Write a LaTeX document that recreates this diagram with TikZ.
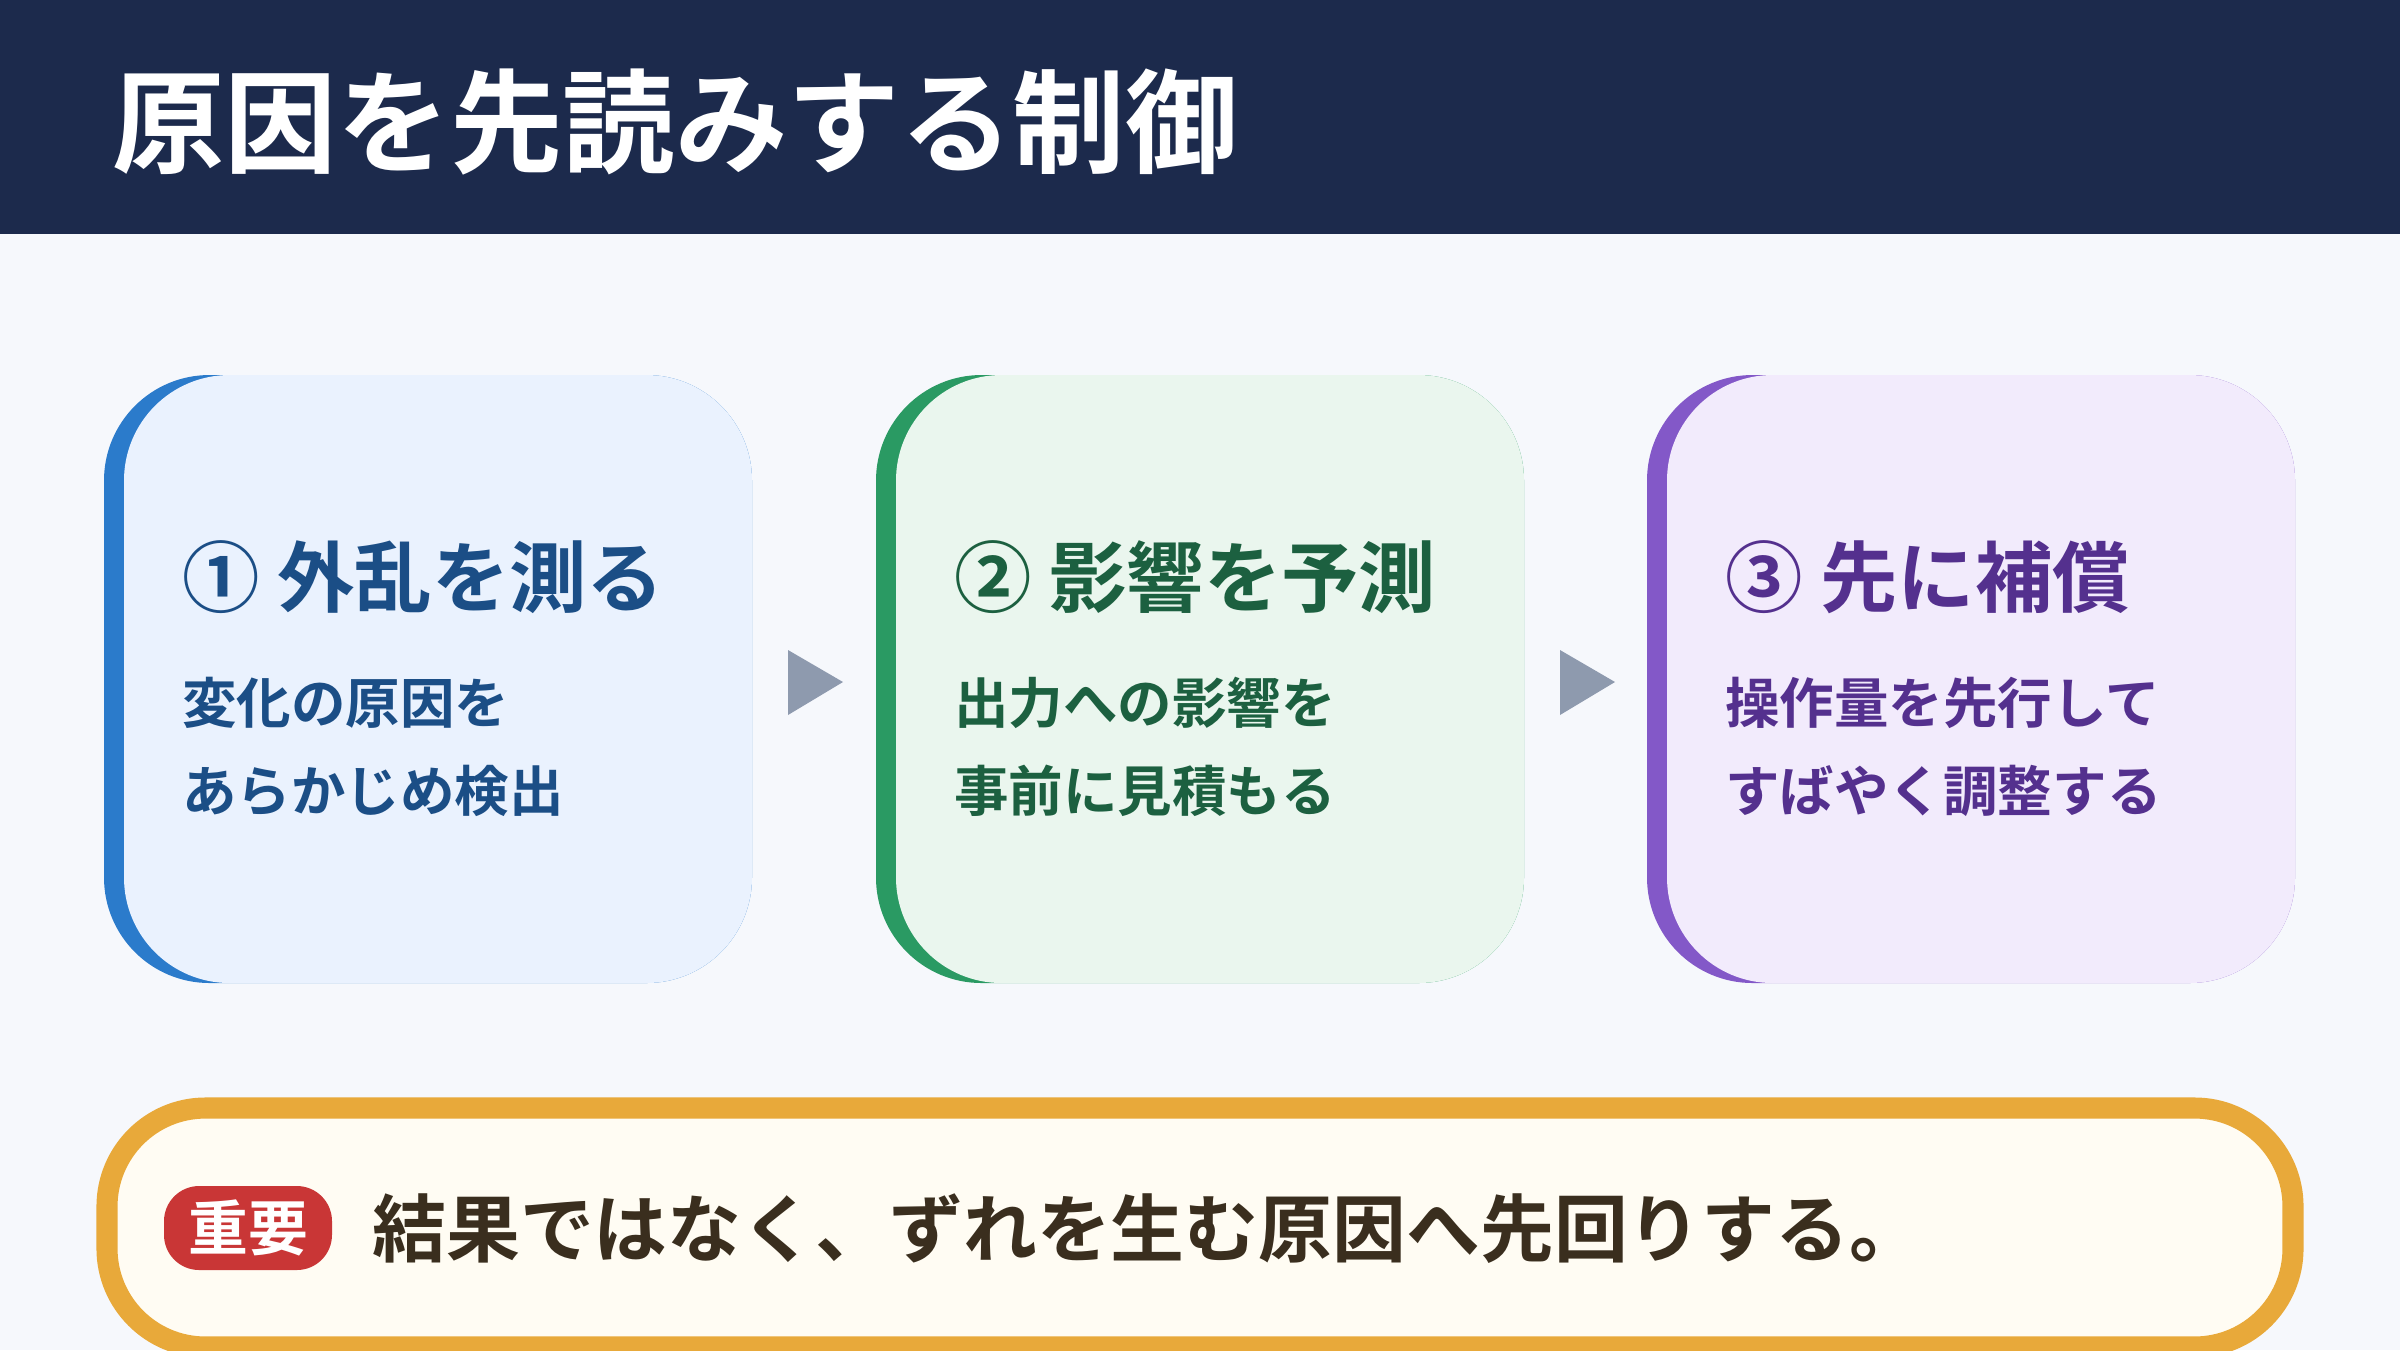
\documentclass[tikz,border=0pt]{standalone}
\usepackage{fontspec}
\setmainfont{Noto Sans CJK JP}[BoldFont={* Bold}]
\definecolor{bg}{HTML}{F6F8FC}
\definecolor{head}{HTML}{1C2A4C}
\definecolor{fa}{HTML}{EAF2FE}\definecolor{ba}{HTML}{2B7BCB}\definecolor{ta}{HTML}{1B4E86}
\definecolor{fb}{HTML}{EAF6EE}\definecolor{bb}{HTML}{2A9A63}\definecolor{tb}{HTML}{1C6040}
\definecolor{fc}{HTML}{F2EBFC}\definecolor{bc}{HTML}{8358C8}\definecolor{tc}{HTML}{54308E}
\definecolor{arr}{HTML}{8E9AAE}
\definecolor{ob}{HTML}{E8A93A}\definecolor{of}{HTML}{FFFCF3}
\definecolor{red}{HTML}{C93636}\definecolor{dk}{HTML}{3A2E1E}
\begin{document}
\begin{tikzpicture}[x=0.01cm,y=-0.01cm,
  hd/.style={anchor=west,font=\bfseries\fontsize{22}{26}\selectfont},
  bd/.style={anchor=west,font=\bfseries\fontsize{15.5}{25}\selectfont,align=left},
  tri/.style={fill=arr}]
\useasboundingbox (0,0) rectangle (2400,1350);
\fill[bg] (0,0) rectangle (2400,1350);
\fill[head] (0,0) rectangle (2400,234);
\node[anchor=west,text=white,font=\bfseries\fontsize{32}{38}\selectfont] (title) at (100,122) {原因を先読みする制御};
% boxes
\foreach \x/\f/\b in {104/fa/ba,876/fb/bb,1647/fc/bc}{
  \fill[\b,rounded corners=30] (\x,375) rectangle ++(648,608);
  \fill[\f,rounded corners=30] (\x+20,375) rectangle ++(628,608);
}
\node[hd,text=ta] (h1) at (170,577) {① 外乱を測る};
\node[bd,text=ta] (t1) at (170,747) {変化の原因を\\あらかじめ検出};
\node[hd,text=tb] (h2) at (942,577) {② 影響を予測};
\node[bd,text=tb] (t2) at (942,747) {出力への影響を\\事前に見積もる};
\node[hd,text=tc] (h3) at (1713,577) {③ 先に補償};
\node[bd,text=tc] (t3) at (1713,747) {操作量を先行して\\すばやく調整する};
\fill[tri] (788,650) -- (843,682) -- (788,715) -- cycle;
\fill[tri] (1560,650) -- (1615,682) -- (1560,715) -- cycle;
% bottom
\draw[ob,line width=6,fill=of,rounded corners=28] (107,1108) rectangle (2293,1347);
\fill[red,rounded corners=10] (164,1186) rectangle (332,1270);
\node[text=white,font=\bfseries\fontsize{17}{20}\selectfont] (badge) at (248,1228) {重要};
\node[anchor=west,text=dk,font=\bfseries\fontsize{21}{26}\selectfont] (msg) at (360,1229) {結果ではなく、ずれを生む原因へ先回りする。};
\end{tikzpicture}
\end{document}
